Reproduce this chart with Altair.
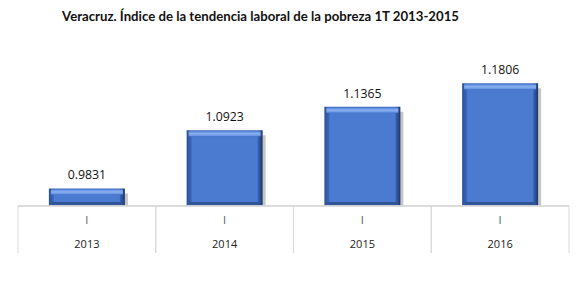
import altair as alt
import pandas as pd

years = ["2013", "2014", "2015", "2016"]
quarters = ["I", "I", "I", "I"]
values = [0.9831, 1.0923, 1.1365, 1.1806]
labels = ["0.9831", "1.0923", "1.1365", "1.1806"]

df = pd.DataFrame({"year": years, "q": quarters, "value": values, "label": labels})

W, H = 551, 133
BASE = 0.95
xs = alt.Scale(domain=years, paddingInner=0, paddingOuter=0)
ys = alt.Scale(domain=[BASE, 1.2], zero=False, nice=False)
x = alt.X("year:N", scale=xs, axis=None)
y = alt.Y("value:Q", scale=ys, axis=None)
y2 = alt.Y2Datum(BASE)

base = alt.Chart(df)

shadow = base.mark_bar(size=76, color="#7f7f7f", opacity=0.45, xOffset=3, yOffset=5).encode(
    x=x, y=y, y2=y2)

outer = base.mark_bar(
    size=76,
    color=alt.LinearGradient(
        gradient="linear", x1=0, x2=1, y1=0, y2=0,
        stops=[alt.GradientStop(offset=0, color="#2a4f94"),
               alt.GradientStop(offset=0.07, color="#3d6bbf"),
               alt.GradientStop(offset=0.93, color="#3d6bbf"),
               alt.GradientStop(offset=1, color="#1c3766")])
).encode(x=x, y=y, y2=y2)

bottom = base.mark_bar(size=70, color="#2f5597", yOffset=-4).encode(
    x=x, y=alt.YDatum(BASE, type="quantitative", scale=ys, axis=None), y2=y2)

topband = base.mark_bar(
    size=72,
    color=alt.LinearGradient(
        gradient="linear", x1=0, x2=0, y1=0, y2=1,
        stops=[alt.GradientStop(offset=0, color="#5b8be0"),
               alt.GradientStop(offset=0.5, color="#8bb0ee"),
               alt.GradientStop(offset=1, color="#5f8fe0")]),
    yOffset=1, y2Offset=6
).encode(x=x, y=y, y2=alt.Y2("value:Q"))

inner = base.mark_bar(size=66, color="#4a7bd0", yOffset=6, y2Offset=-4).encode(
    x=x, y=y, y2=y2)

vlabels = base.mark_text(font="Open Sans", fontSize=12.3, color="#111111", dy=-9,
                         baseline="alphabetic").encode(
    x=x, y=y, text="label:N")

hline = base.mark_rule(color="#d9d9d9", strokeWidth=1).encode(
    x=alt.value(0), x2=alt.value(W), y=alt.value(H))

vlines_l = base.mark_rule(color="#d9d9d9", strokeWidth=1).encode(
    x=alt.X("year:N", scale=xs, axis=None, bandPosition=0),
    y=alt.value(H), y2=alt.value(H + 47))
vlines_r = base.mark_rule(color="#d9d9d9", strokeWidth=1).encode(
    x=alt.X("year:N", scale=xs, axis=None, bandPosition=1),
    y=alt.value(H), y2=alt.value(H + 47))

qtext = base.mark_text(font="Open Sans", fontSize=11, color="#595959", baseline="middle").encode(
    x=x, y=alt.value(H + 15), text="q:N")
ytext = base.mark_text(font="Open Sans", fontSize=11, color="#222222", baseline="middle").encode(
    x=x, y=alt.value(H + 39), text="year:N")

chart = alt.layer(
    shadow, outer, bottom, topband, inner, vlabels, hline, vlines_l, vlines_r, qtext, ytext
).properties(
    width=W, height=H,
    title=alt.TitleParams(
        "Veracruz. Índice de la tendencia laboral de la pobreza 1T 2013-2015",
        font="Lato", fontSize=13.2, fontWeight="bold", color="#111111",
        anchor="middle", dx=-33, offset=40),
    autosize=alt.AutoSizeParams(type="none"),
    padding={"left": 18, "top": 73, "right": 19, "bottom": 77},
).configure_view(stroke=None)

chart.save("out.html", embed_options={"renderer": "svg", "actions": False})
